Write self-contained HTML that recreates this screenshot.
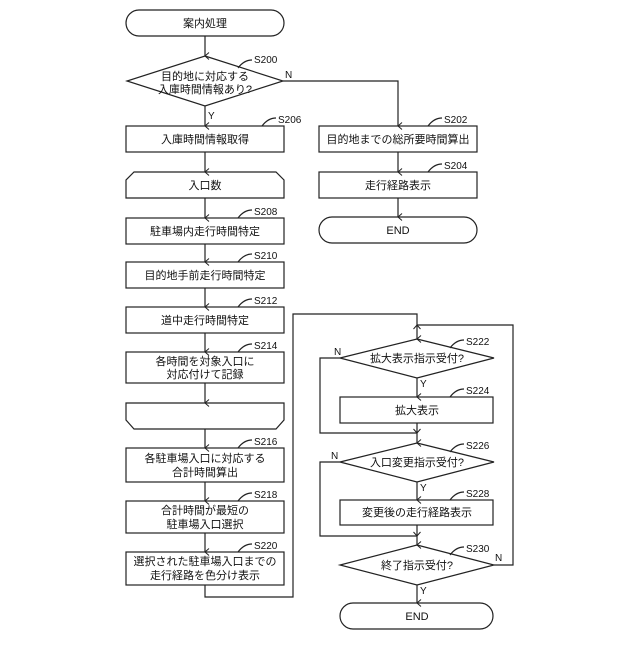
<!DOCTYPE html>
<html><head><meta charset="utf-8"><style>
html,body{margin:0;padding:0;background:#fff}
svg text{font-family:"Liberation Sans","Noto Sans CJK JP",sans-serif;fill:#111}
</style></head><body>
<svg width="640" height="640" viewBox="0 0 640 640" xmlns="http://www.w3.org/2000/svg">
<defs><marker id="a" markerWidth="8" markerHeight="8" refX="4" refY="7" orient="auto-start-reverse" markerUnits="userSpaceOnUse" viewBox="0 0 8 8"><path d="M0.5,3 L4,7 L7.5,3" fill="none" stroke="#222" stroke-width="1"/></marker></defs>
<g fill="none" stroke="#222" stroke-width="1.2">
<!-- left column -->
<rect x="126" y="10" width="158" height="26" rx="13"/>
<polygon points="205,56 283,81 205,106 127,81"/>
<rect x="126" y="126" width="158" height="26"/>
<polygon points="134,172 276,172 284,180 284,198 126,198 126,180"/>
<rect x="126" y="218" width="158" height="26"/>
<rect x="126" y="262" width="158" height="26"/>
<rect x="126" y="307" width="158" height="26"/>
<rect x="126" y="352" width="158" height="31"/>
<polygon points="126,403 284,403 284,420 276,429 134,429 126,420"/>
<rect x="126" y="448" width="158" height="34"/>
<rect x="126" y="501" width="158" height="32"/>
<rect x="126" y="552" width="158" height="33"/>
<line x1="205" y1="36" x2="205" y2="56" marker-end="url(#a)"/>
<line x1="205" y1="106" x2="205" y2="126" marker-end="url(#a)"/>
<line x1="205" y1="152" x2="205" y2="172" marker-end="url(#a)"/>
<line x1="205" y1="198" x2="205" y2="218" marker-end="url(#a)"/>
<line x1="205" y1="244" x2="205" y2="262" marker-end="url(#a)"/>
<line x1="205" y1="288" x2="205" y2="307" marker-end="url(#a)"/>
<line x1="205" y1="333" x2="205" y2="352" marker-end="url(#a)"/>
<line x1="205" y1="383" x2="205" y2="403" marker-end="url(#a)"/>
<line x1="205" y1="429" x2="205" y2="448" marker-end="url(#a)"/>
<line x1="205" y1="482" x2="205" y2="501" marker-end="url(#a)"/>
<line x1="205" y1="533" x2="205" y2="552" marker-end="url(#a)"/>
<polyline points="205,585 205,597 293,597 293,314 417,314 417,339" marker-end="url(#a)"/>
<!-- right top -->
<polyline points="283,81 398,81 398,126" marker-end="url(#a)"/>
<rect x="319" y="126" width="158" height="26"/>
<rect x="319" y="172" width="158" height="26"/>
<rect x="319" y="217" width="158" height="26" rx="13"/>
<line x1="398" y1="152" x2="398" y2="172" marker-end="url(#a)"/>
<line x1="398" y1="198" x2="398" y2="217" marker-end="url(#a)"/>
<!-- right bottom -->
<polygon points="417,339 494,358 417,378 340,358"/>
<rect x="340" y="397" width="153" height="26"/>
<polygon points="417,443 494,462 417,482 340,462"/>
<rect x="340" y="500" width="153" height="25"/>
<polygon points="417,545 494,565 417,585 340,565"/>
<rect x="340" y="603" width="153" height="26" rx="13"/>
<line x1="417" y1="378" x2="417" y2="397" marker-end="url(#a)"/>
<line x1="417" y1="423" x2="417" y2="443" marker-end="url(#a)"/>
<line x1="417" y1="482" x2="417" y2="500" marker-end="url(#a)"/>
<line x1="417" y1="525" x2="417" y2="545" marker-end="url(#a)"/>
<line x1="417" y1="585" x2="417" y2="603" marker-end="url(#a)"/>
<polyline points="340,358 320,358 320,433 417,433" marker-end="url(#a)"/>
<polyline points="340,462 320,462 320,536 417,536" marker-end="url(#a)"/>
<polyline points="494,565 513,565 513,325 417,325" marker-end="url(#a)"/>
<!-- leaders -->
<path d="M238,68 q6,-8 14,-8"/><path d="M262,126 q6,-8 14,-8"/><path d="M238,218 q6,-8 14,-8"/>
<path d="M238,262 q6,-8 14,-8"/><path d="M238,307 q6,-8 14,-8"/><path d="M238,352 q6,-8 14,-8"/>
<path d="M238,448 q6,-8 14,-8"/><path d="M238,501 q6,-8 14,-8"/><path d="M238,552 q6,-8 14,-8"/>
<path d="M428,126 q6,-8 14,-8"/><path d="M428,172 q6,-8 14,-8"/>
<path d="M450,348 q6,-8 14,-8"/><path d="M450,397 q6,-8 14,-8"/><path d="M450,452 q6,-8 14,-8"/>
<path d="M450,500 q6,-8 14,-8"/><path d="M450,555 q6,-8 14,-8"/>
</g>
<g font-size="11" text-anchor="middle">
<text x="205" y="27">案内処理</text>
<text x="205" y="80">目的地に対応する</text>
<text x="205" y="93">入庫時間情報あり?</text>
<text x="205" y="143">入庫時間情報取得</text>
<text x="205" y="189">入口数</text>
<text x="205" y="235">駐車場内走行時間特定</text>
<text x="205" y="279">目的地手前走行時間特定</text>
<text x="205" y="324">道中走行時間特定</text>
<text x="205" y="365">各時間を対象入口に</text>
<text x="205" y="378">対応付けて記録</text>
<text x="205" y="462">各駐車場入口に対応する</text>
<text x="205" y="476">合計時間算出</text>
<text x="205" y="514">合計時間が最短の</text>
<text x="205" y="528">駐車場入口選択</text>
<text x="205" y="565">選択された駐車場入口までの</text>
<text x="205" y="579">走行経路を色分け表示</text>
<text x="398" y="143">目的地までの総所要時間算出</text>
<text x="398" y="189">走行経路表示</text>
<text x="398" y="234">END</text>
<text x="417" y="362">拡大表示指示受付?</text>
<text x="417" y="414">拡大表示</text>
<text x="417" y="466">入口変更指示受付?</text>
<text x="417" y="516">変更後の走行経路表示</text>
<text x="417" y="569">終了指示受付?</text>
<text x="417" y="620">END</text>
</g>
<g font-size="10">
<text x="254" y="63">S200</text><text x="278" y="123">S206</text><text x="254" y="215">S208</text>
<text x="254" y="259">S210</text><text x="254" y="304">S212</text><text x="254" y="349">S214</text>
<text x="254" y="445">S216</text><text x="254" y="498">S218</text><text x="254" y="549">S220</text>
<text x="444" y="123">S202</text><text x="444" y="169">S204</text>
<text x="466" y="345">S222</text><text x="466" y="394">S224</text><text x="466" y="449">S226</text>
<text x="466" y="497">S228</text><text x="466" y="552">S230</text>
<text x="285" y="78">N</text><text x="208" y="119">Y</text>
<text x="334" y="355">N</text><text x="420" y="387">Y</text>
<text x="331" y="459">N</text><text x="420" y="491">Y</text>
<text x="495" y="561">N</text><text x="420" y="594">Y</text>
</g>
</svg>
</body></html>
